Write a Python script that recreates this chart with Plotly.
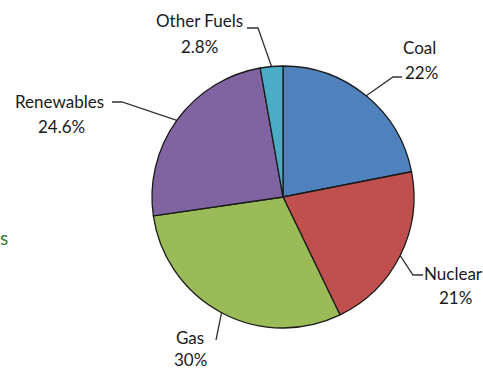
import math
import plotly.graph_objects as go

# ---- data ----
labels = ["Coal", "Nuclear", "Gas", "Renewables", "Other Fuels"]
values = [22, 21, 30, 24.6, 2.8]
pct_text = ["22%", "21%", "30%", "24.6%", "2.8%"]
colors = ["#4F81BD", "#C0504D", "#9BBB59", "#8064A2", "#4BACC6"]

# ---- layout (pixels) ----
W, H = 483, 370
CX, CY, R = 283, 197, 131
FONT = dict(family="Lato", size=17, color="#1a1a1a")

# name center, pct center and elbow points (pixel space, y downward)
label_layout = {
    "Coal": dict(name=(419, 47), pct=(421, 72), elbow=[(393, 77), (402, 77)]),
    "Nuclear": dict(name=(453, 273), pct=(455, 297), elbow=[(413, 275), (423, 275)]),
    "Gas": dict(name=(190, 337), pct=(190, 359), elbow=[(216, 340)]),
    "Renewables": dict(name=(59, 101), pct=(61, 126), elbow=[(122, 102), (112, 102)]),
    "Other Fuels": dict(name=(199, 21), pct=(199, 46), elbow=[(258, 28), (247, 28)]),
}

fig = go.Figure()
fig.add_trace(go.Pie(
    labels=labels, values=values, sort=False, direction="clockwise", rotation=0,
    marker=dict(colors=colors, line=dict(color="#1a1a1a", width=1.3)),
    textinfo="none", hoverinfo="label+percent", showlegend=False,
    domain=dict(x=[(CX - R) / W, (CX + R) / W], y=[(H - CY - R) / H, (H - CY + R) / H]),
))

total = sum(values)
cum = 0
annotations = []
for lab, v, pt in zip(labels, values, pct_text):
    mid = (cum + v / 2) / total * 2 * math.pi
    cum += v
    ex, ey = CX + R * math.sin(mid), CY - R * math.cos(mid)
    lay = label_layout[lab]
    pts = [(ex, ey)] + lay["elbow"]
    fig.add_trace(go.Scatter(
        x=[p[0] for p in pts], y=[p[1] for p in pts], mode="lines",
        line=dict(color="#333333", width=1.3), xaxis="x2", yaxis="y2",
        hoverinfo="skip", showlegend=False,
    ))
    for txt, (tx, ty) in ((lab, lay["name"]), (pt, lay["pct"])):
        annotations.append(dict(
            x=tx / W, y=1 - ty / H, xref="paper", yref="paper",
            text=txt, showarrow=False, font=FONT,
            xanchor="center", yanchor="middle", align="center",
        ))

# text fragment at left edge
annotations.append(dict(x=0, y=1 - 237 / H, xref="paper", yref="paper",
                        text="s", showarrow=False, xanchor="left", yanchor="middle",
                        xshift=-2,
                        font=dict(family="Lato", size=19, color="#2E7D32")))

fig.update_layout(
    width=W, height=H, margin=dict(l=0, r=0, t=0, b=0),
    paper_bgcolor="white", plot_bgcolor="rgba(0,0,0,0)",
    xaxis2=dict(range=[0, W], domain=[0, 1], visible=False, fixedrange=True),
    yaxis2=dict(range=[H, 0], domain=[0, 1], visible=False, fixedrange=True),
    xaxis=dict(visible=False), yaxis=dict(visible=False),
    annotations=annotations,
)

fig.write_html("out.html")
